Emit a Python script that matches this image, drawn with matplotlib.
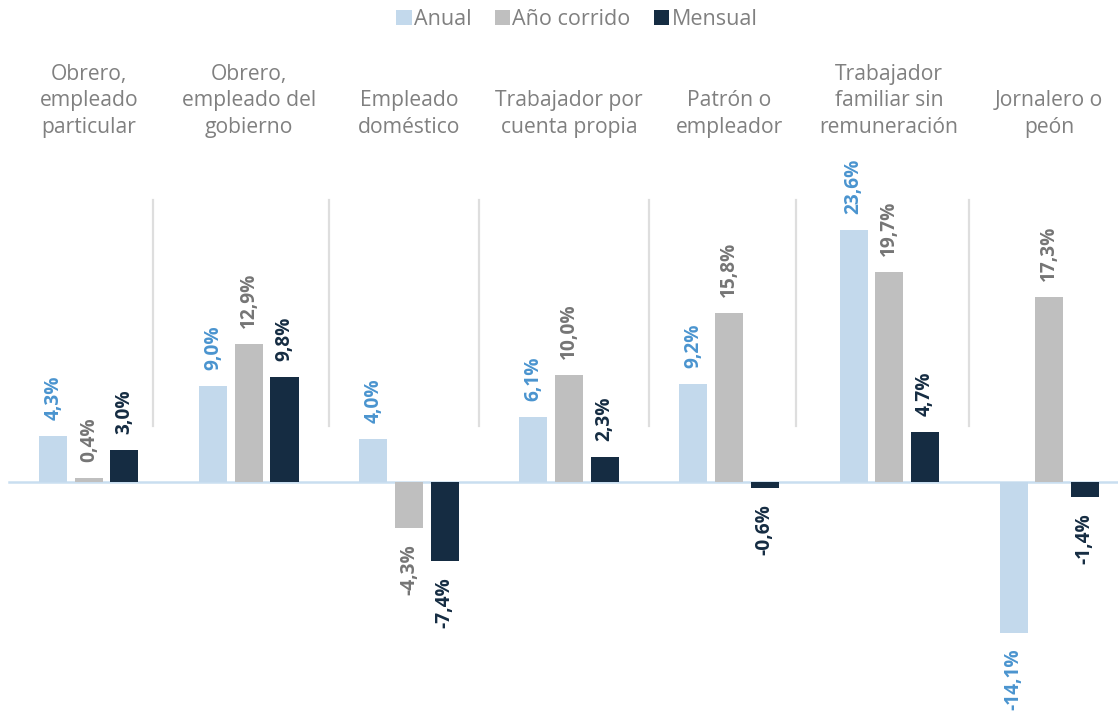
import matplotlib.pyplot as plt
from matplotlib.patches import Patch

plt.rcParams['font.family'] = ['Open Sans', 'DejaVu Sans']

# Data
categories = ["Obrero,\nempleado\nparticular", "Obrero,\nempleado del\ngobierno",
              "Empleado\ndoméstico", "Trabajador por\ncuenta propia",
              "Patrón o\nempleador", "Trabajador\nfamiliar sin\nremuneración",
              "Jornalero o\npeón"]
anual = [4.3, 9.0, 4.0, 6.1, 9.2, 23.6, -14.1]
ano_corrido = [0.4, 12.9, -4.3, 10.0, 15.8, 19.7, 17.3]
mensual = [3.0, 9.8, -7.4, 2.3, -0.6, 4.7, -1.4]
series_names = ["Anual", "Año corrido", "Mensual"]

bar_colors = ["#c3d9ec", "#bfbfbf", "#152c42"]
label_colors = ["#4a94cf", "#757575", "#152c42"]
text_gray = "#808080"

# figure / axes covering the whole canvas
fig = plt.figure(figsize=(11.18, 7.11), dpi=100)
ax = fig.add_axes([0, 0, 1, 1])
ax.set_xlim(-0.556, 6.431)
ax.set_ylim(-21.44, 45.13)
ax.axis('off')

width = 0.175
offsets = [-0.222, 0.0, 0.222]
x = list(range(len(categories)))

for s, values in enumerate([anual, ano_corrido, mensual]):
    xs = [i + offsets[s] for i in x]
    ax.bar(xs, values, width=width, color=bar_colors[s], zorder=2)
    for xi, v in zip(xs, values):
        txt = ("%.1f%%" % v).replace(".", ",")
        ax.annotate(txt, (xi, v), xytext=(0, 11.5 if v >= 0 else -11.5),
                    textcoords='offset points', rotation=90,
                    ha='center', va='bottom' if v >= 0 else 'top',
                    fontsize=13.8, fontweight='bold', color=label_colors[s])

# zero line
ax.plot([-0.5, 6.431], [0, 0], color="#c9def0", lw=1.8, zorder=1)

# separators between groups
separators = [0.4, 1.5, 2.44, 3.5, 4.42, 5.5]
for sx in separators:
    ax.plot([sx, sx], [5.2, 26.4], color="#dedede", lw=1.6, zorder=0)

# category titles, bottom-aligned
for i, cat in enumerate(categories):
    ax.text(i, 32.7, cat, ha='center', va='baseline', fontsize=15.2,
            color=text_gray, linespacing=1.33)

# legend
handles = [Patch(facecolor=c, edgecolor='none') for c in bar_colors]
fig.legend(handles, series_names, loc='upper center', bbox_to_anchor=(0.516, 1.014),
           ncol=3, frameon=False, fontsize=15.5, labelcolor=text_gray,
           handlelength=0.7, handleheight=0.7, handletextpad=0.1, columnspacing=1.1)

fig.savefig("out.png", dpi=100)
